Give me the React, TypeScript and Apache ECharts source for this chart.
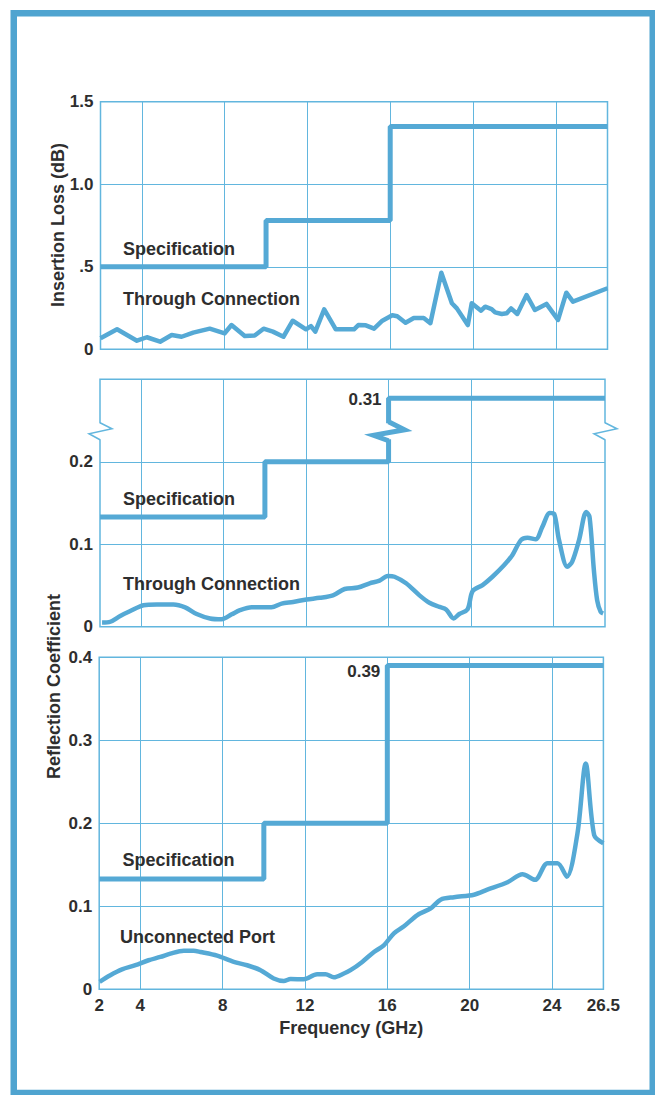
import React, { useEffect, useRef } from "react";
import * as echarts from "echarts";

// ---------- data ----------
const freqLabelValues = [2, 4, 8, 12, 16, 20, 24, 26.5];
const freqGridValues = [4, 8, 12, 16, 20, 24];
const freqMin = 2;
const freqMax = 26.5;

const ilTickValues = [0, 0.5, 1, 1.5];
const ilTickLabels = ["0", ".5", "1.0", "1.5"];
const rcThroughTickValues = [0, 0.1, 0.2, 0.3];
const rcThroughTickLabels = ["0", "0.1", "0.2", ""];
const rcPortTickValues = [0, 0.1, 0.2, 0.3, 0.4];
const rcPortTickLabels = ["0", "0.1", "0.2", "0.3", "0.4"];

// specification steps (value holds from each frequency to the next)
const specFreq = [2, 10, 16, 26.5];
const specInsertionLoss = [0.5, 0.78, 1.35, 1.35];
// through-connection reflection spec; last step (0.31) drawn above a scale break
const specReflThrough = [0.133, 0.2, 0.277, 0.277];
const specReflThroughLabel = "0.31";
const reflBreakAt = 0.237;
const specReflPort = [0.133, 0.2, 0.39, 0.39];
const specReflPortLabel = "0.39";

// insertion loss, through connection
const ilFreq = [2.0, 2.8, 3.76, 4.24, 4.88, 5.44, 5.92, 6.48, 7.28, 8.0, 8.33, 8.97, 9.45, 9.88, 10.33, 10.84, 11.29, 11.93, 12.17, 12.38, 12.81, 13.37, 14.25, 14.46, 14.82, 15.22, 15.62, 16.1, 16.34, 16.74, 17.14, 17.62, 17.94, 18.47, 18.98, 19.22, 19.75, 19.94, 20.39, 20.59, 20.9, 21.07, 21.39, 21.63, 21.84, 22.14, 22.59, 22.99, 23.55, 24.11, 24.51, 24.83, 26.5];
const ilValue = [0.067, 0.121, 0.052, 0.073, 0.046, 0.087, 0.076, 0.101, 0.125, 0.097, 0.147, 0.08, 0.083, 0.125, 0.107, 0.076, 0.173, 0.121, 0.141, 0.107, 0.242, 0.121, 0.121, 0.147, 0.145, 0.125, 0.173, 0.206, 0.2, 0.161, 0.19, 0.19, 0.158, 0.464, 0.279, 0.248, 0.147, 0.279, 0.234, 0.258, 0.244, 0.224, 0.214, 0.218, 0.248, 0.214, 0.329, 0.238, 0.275, 0.178, 0.343, 0.289, 0.37];

// reflection coefficient, through connection
const rcThroughFreq = [2.1, 2.5, 2.98, 3.47, 4.11, 4.76, 5.56, 6.13, 6.69, 7.34, 7.9, 8.39, 8.79, 9.36, 10.32, 10.81, 11.37, 12.02, 12.66, 13.3, 13.87, 14.51, 15.08, 15.56, 15.96, 16.29, 16.85, 17.5, 17.98, 18.47, 18.79, 19.16, 19.43, 19.83, 20.08, 20.56, 21.04, 21.61, 22.01, 22.42, 22.74, 23.14, 23.46, 23.82, 24.03, 24.27, 24.67, 24.91, 25.24, 25.59, 25.75, 25.96, 26.12, 26.29, 26.41];
const rcThroughValue = [0.005, 0.006, 0.013, 0.019, 0.026, 0.027, 0.027, 0.0235, 0.0154, 0.01, 0.009, 0.015, 0.02, 0.0235, 0.0235, 0.028, 0.03, 0.033, 0.035, 0.038, 0.0457, 0.0475, 0.0526, 0.0558, 0.0615, 0.0606, 0.0526, 0.038, 0.029, 0.024, 0.021, 0.01, 0.0154, 0.021, 0.0433, 0.0505, 0.0606, 0.0748, 0.087, 0.105, 0.108, 0.106, 0.121, 0.138, 0.137, 0.105, 0.0727, 0.079, 0.105, 0.139, 0.133, 0.0687, 0.032, 0.018, 0.016];

// reflection coefficient, unconnected port
const rcPortFreq = [2.02, 2.54, 3.11, 3.76, 4.4, 4.97, 5.46, 6.11, 6.59, 6.92, 7.73, 8.54, 9.19, 9.84, 10.48, 10.97, 11.3, 11.94, 12.59, 13.0, 13.4, 13.89, 14.21, 14.78, 15.35, 15.83, 16.32, 16.81, 17.46, 18.11, 18.59, 19.24, 20.21, 20.86, 21.84, 22.57, 23.18, 23.78, 24.27, 24.72, 25.24, 25.64, 26.05, 26.5];
const rcPortValue = [0.009, 0.017, 0.024, 0.029, 0.035, 0.039, 0.043, 0.0465, 0.0465, 0.045, 0.0405, 0.033, 0.029, 0.023, 0.013, 0.01, 0.0124, 0.012, 0.018, 0.018, 0.0145, 0.019, 0.023, 0.033, 0.045, 0.053, 0.0675, 0.076, 0.0895, 0.0976, 0.108, 0.111, 0.114, 0.12, 0.129, 0.1386, 0.132, 0.152, 0.152, 0.1357, 0.188, 0.272, 0.186, 0.176];

// ---------- style ----------
const BLUE = "#55a9d5";
const GRID = "#62b6de";
const TEXT = "#2e2e2e";
const FONT = "Liberation Sans, Arial, sans-serif";

const zip = (xs: number[], ys: number[]) => xs.map((x, i) => [x, ys[i]]);

function labelFor(values: number[], labels: string[]) {
  return (v: number) => {
    const i = values.findIndex((t) => Math.abs(t - v) < 1e-6);
    return i >= 0 ? labels[i] : "";
  };
}

export default function App() {
  const ref = useRef<HTMLDivElement>(null);

  useEffect(() => {
    if (!ref.current) return;
    const chart = echarts.init(ref.current, undefined, { renderer: "svg" });

    const grids = [
      { left: 100.5, top: 101.7, width: 507, height: 247.6 },
      { left: 100, top: 379.3, width: 505, height: 247.4 },
      { left: 99.2, top: 657.3, width: 504.2, height: 332 },
    ].map((g) => ({ ...g, show: true, borderColor: GRID, borderWidth: 1.5, backgroundColor: "transparent" }));

    const xAxis = [0, 1, 2].map((gi) => ({
      type: "value",
      gridIndex: gi,
      min: freqMin,
      max: freqMax,
      axisLine: { show: false },
      axisTick: { show: false, customValues: freqGridValues },
      splitLine: { show: true, lineStyle: { color: GRID, width: 1 } },
      axisLabel:
        gi === 2
          ? {
              show: true,
              customValues: freqLabelValues,
              formatter: (v: number) => String(v),
              fontFamily: FONT,
              fontWeight: "bold",
              fontSize: 17,
              color: TEXT,
              margin: 8,
            }
          : { show: false },
      name: gi === 2 ? "Frequency (GHz)" : "",
      nameLocation: "middle",
      nameGap: 30,
      nameTextStyle: { fontFamily: FONT, fontWeight: "bold", fontSize: 18, color: TEXT },
    }));

    const yCommon = {
      type: "value",
      axisLine: { show: false },
      axisTick: { show: false },
      splitLine: { show: true, lineStyle: { color: GRID, width: 1 } },
    };
    const yLabel = (values: number[], labels: string[]) => ({
      fontFamily: FONT,
      fontWeight: "bold",
      fontSize: 17,
      color: TEXT,
      margin: 7,
      formatter: labelFor(values, labels),
    });
    const yAxis = [
      { ...yCommon, gridIndex: 0, min: 0, max: 1.5, interval: 0.5, axisLabel: yLabel(ilTickValues, ilTickLabels) },
      { ...yCommon, gridIndex: 1, min: 0, max: 0.3, interval: 0.1, axisLabel: yLabel(rcThroughTickValues, rcThroughTickLabels) },
      { ...yCommon, gridIndex: 2, min: 0, max: 0.4, interval: 0.1, axisLabel: yLabel(rcPortTickValues, rcPortTickLabels) },
    ];

    const specSeries = (idx: number, values: number[]) => ({
      type: "line",
      xAxisIndex: idx,
      yAxisIndex: idx,
      step: "end",
      symbol: "none",
      data: zip(specFreq, values),
      lineStyle: { color: BLUE, width: 5 },
      z: 3,
    });
    const dataSeries = (idx: number, xs: number[], ys: number[], smooth: number | boolean) => ({
      type: "line",
      xAxisIndex: idx,
      yAxisIndex: idx,
      symbol: "none",
      smooth,
      data: zip(xs, ys),
      lineStyle: { color: BLUE, width: 4.5, join: "round" },
      z: 3,
    });

    chart.setOption({
      animation: false,
      backgroundColor: "#ffffff",
      textStyle: { fontFamily: FONT },
      grid: grids,
      xAxis,
      yAxis,
      series: [
        specSeries(0, specInsertionLoss),
        dataSeries(0, ilFreq, ilValue, false),
        specSeries(1, specReflThrough),
        dataSeries(1, rcThroughFreq, rcThroughValue, 0.3),
        specSeries(2, specReflPort),
        dataSeries(2, rcPortFreq, rcPortValue, 0.3),
      ],
    });

    // ----- graphics computed from the axes -----
    const finder1 = { xAxisIndex: 1, yAxisIndex: 1 };
    const [lx, by] = chart.convertToPixel(finder1, [freqMin, reflBreakAt]) as number[];
    const [rx] = chart.convertToPixel(finder1, [freqMax, reflBreakAt]) as number[];
    const [sx] = chart.convertToPixel(finder1, [specFreq[2], reflBreakAt]) as number[];
    const [, sTop] = chart.convertToPixel(finder1, [specFreq[2], specReflThrough[2]]) as number[];
    const [, pTop] = chart.convertToPixel({ xAxisIndex: 2, yAxisIndex: 2 }, [specFreq[2], specReflPort[2]]) as number[];
    const [psx] = chart.convertToPixel({ xAxisIndex: 2, yAxisIndex: 2 }, [specFreq[2], specReflPort[2]]) as number[];

    const thin = [[0, -8.5], [12, -2.5], [-11, 2.5], [0, 8.5]];
    const thick = [[0, -9.5], [16, -1.5], [-15, 4], [0, 9.5]];
    const zig = (cx: number, cy: number, pts: number[][], w: number) => [
      {
        type: "rect",
        z: 100,
        shape: { x: cx - w, y: cy - 8, width: 2 * w, height: 16 },
        style: { fill: "#ffffff" },
      },
      {
        type: "polyline",
        z: 101,
        shape: { points: pts.map(([dx, dy]) => [cx + dx, cy + dy]) },
        style: { stroke: pts === thick ? BLUE : GRID, lineWidth: pts === thick ? 5 : 1.5, fill: "none", lineJoin: "miter" },
      },
    ];

    const txt = (text: string, x: number, y: number, size = 18, align = "left") => ({
      type: "text",
      z: 110,
      x,
      y,
      style: {
        text,
        fontFamily: FONT,
        fontWeight: "bold",
        fontSize: size,
        fill: TEXT,
        align,
        verticalAlign: "middle",
      },
    });

    chart.setOption({
      graphic: [
        {
          type: "rect",
          z: 120,
          shape: { x: 13.75, y: 13.25, width: 639, height: 1079.75 },
          style: { fill: "none", stroke: "#4fa4d0", lineWidth: 6.5 },
        },
        ...zig(lx, by, thin, 3),
        ...zig(rx, by, thin, 3),
        ...zig(sx, by, thick, 4),
        txt("Specification", 123, 248.5),
        txt("Through Connection", 123, 298.5),
        txt("Specification", 123, 499),
        txt("Through Connection", 123, 583.5),
        txt("Specification", 122.5, 859.5),
        txt("Unconnected Port", 120, 937),
        txt(specReflThroughLabel, sx - 7, sTop + 1.5, 17, "right"),
        txt(specReflPortLabel, psx - 7, pTop + 5.5, 17, "right"),
        {
          type: "text",
          z: 110,
          x: 58,
          y: 225,
          rotation: Math.PI / 2,
          style: { text: "Insertion Loss (dB)", fontFamily: FONT, fontWeight: "bold", fontSize: 18, fill: TEXT, align: "center", verticalAlign: "middle" },
        },
        {
          type: "text",
          z: 110,
          x: 54,
          y: 686.5,
          rotation: Math.PI / 2,
          style: { text: "Reflection Coefficient", fontFamily: FONT, fontWeight: "bold", fontSize: 18, fill: TEXT, align: "center", verticalAlign: "middle" },
        },
      ],
    });

    return () => chart.dispose();
  }, []);

  return (
    <div
      ref={ref}
      style={{ position: "absolute", left: 0, top: 0, width: 655, height: 1095, background: "#fff" }}
    />
  );
}
